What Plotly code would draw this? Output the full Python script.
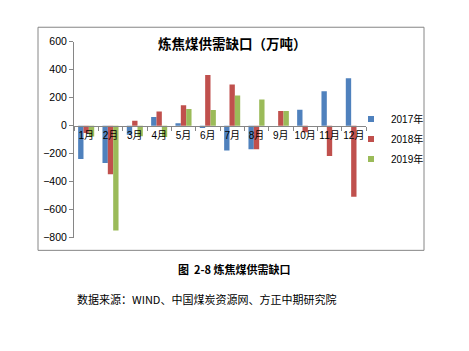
import plotly.graph_objects as go

months = ["1月", "2月", "3月", "4月", "5月", "6月", "7月", "8月", "9月", "10月", "11月", "12月"]
gap_2017 = [-237, -265, -65, 62, 18, -16, -177, -168, 0, 115, 246, 340]
gap_2018 = [-51, -347, 36, 101, 147, 363, 294, -168, 106, -46, -216, -506]
gap_2019 = [-76, -747, -75, -80, 119, 112, 216, 188, 106, 0, 0, 0]
series_names = ["2017年", "2018年", "2019年"]
colors = ["#4F81BD", "#C0504D", "#9BBB59"]

W, H = 469, 351
FONT = "Liberation Sans, Noto Sans CJK SC, sans-serif"

def px_x(x):
    return x / W

def px_y(y):
    return 1 - y / H

y_min, y_max = -800, 600
dom_top, dom_bot = px_y(37), px_y(240)
zero_pos = dom_bot + (dom_top - dom_bot) * (0 - y_min) / (y_max - y_min)

fig = go.Figure()
for name, vals, c in zip(series_names, [gap_2017, gap_2018, gap_2019], colors):
    fig.add_trace(go.Bar(x=months, y=vals, name=name, showlegend=False,
                         marker=dict(color=c, line=dict(width=0))))
# legend entries with small square keys
for name, c in zip(series_names, colors):
    fig.add_trace(go.Scatter(x=[None], y=[None], mode="markers", name=name,
                             legendgroup=name,
                             marker=dict(symbol="square", size=6, color=c)))

fig.update_layout(
    width=W, height=H,
    margin=dict(l=0, r=0, t=0, b=0),
    paper_bgcolor="white", plot_bgcolor="white",
    barmode="group", bargap=0.34, bargroupgap=0,
    font=dict(family=FONT, size=10, color="#000000"),
    showlegend=True,
    legend=dict(x=px_x(351), y=px_y(102), xanchor="left", yanchor="top",
                font=dict(size=10, family=FONT), itemwidth=30, tracegroupgap=1,
                bgcolor="rgba(0,0,0,0)"),
    xaxis=dict(domain=[px_x(74), px_x(366)], anchor="free", position=zero_pos,
               showline=True, linecolor="#868686", linewidth=1,
               ticks="outside", ticklen=4, tickcolor="#868686", tickson="boundaries",
               tickangle=0, showgrid=False, tickfont=dict(size=10, family=FONT)),
    yaxis=dict(domain=[dom_bot, dom_top], range=[y_min, y_max], dtick=200,
               showline=True, linecolor="#868686", linewidth=1,
               ticks="outside", ticklen=4, tickcolor="#868686",
               showgrid=False, zeroline=False, tickfont=dict(size=10.5, family=FONT)),
    shapes=[dict(type="rect", xref="paper", yref="paper",
                 x0=px_x(38), x1=px_x(424), y0=px_y(253), y1=px_y(22),
                 line=dict(color="#868686", width=1))],
    annotations=[
        dict(text="<b>炼焦煤供需缺口（万吨）</b>", xref="paper", yref="paper",
             x=px_x(232), y=px_y(38), showarrow=False, xanchor="center", yanchor="middle",
             font=dict(size=13.5, family="Noto Sans CJK SC")),
        dict(text="<b>图  2-8 炼焦煤供需缺口</b>", xref="paper", yref="paper",
             x=px_x(234), y=px_y(272), showarrow=False, xanchor="center", yanchor="middle",
             font=dict(size=11, family="Noto Sans CJK SC")),
        dict(text="数据来源：WIND、中国煤炭资源网、方正中期研究院", xref="paper", yref="paper",
             x=px_x(75), y=px_y(303), showarrow=False, xanchor="left", yanchor="middle",
             font=dict(size=11, family="Noto Sans CJK SC")),
    ],
)

fig.write_html("out.html")
